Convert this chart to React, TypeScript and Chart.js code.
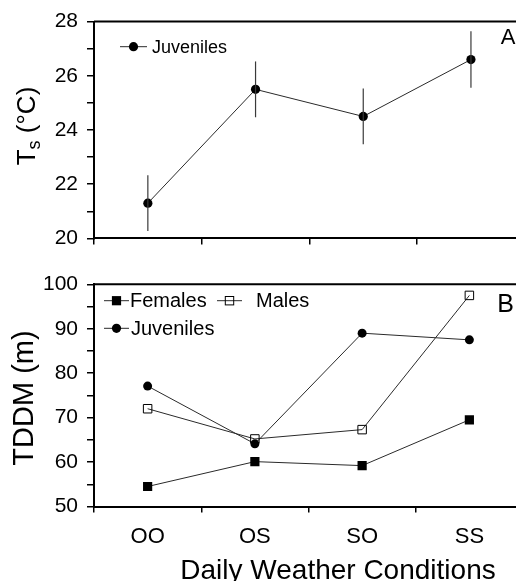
import React, { useEffect, useRef } from "react";
import { Chart, registerables } from "chart.js";

Chart.register(...registerables);

const categories = ["OO", "OS", "SO", "SS"];

// Panel A: surface temperature of juveniles (mean ± error)
const tsJuveniles = [21.3, 25.5, 24.5, 26.6];
const tsErrors = [1.03, 1.03, 1.03, 1.04];

// Panel B: TDDM (m)
const tddmFemales = [54.5, 60.1, 59.2, 69.5];
const tddmMales = [72.0, 65.2, 67.3, 97.5];
const tddmJuveniles = [77.1, 64.1, 89.0, 87.5];

const FONT = "'Liberation Sans', Arial, Helvetica, sans-serif";
const INK = "#000";
const LINE = "#2a2a2a";

function drawMarker(ctx: CanvasRenderingContext2D, kind: string, x: number, y: number) {
  ctx.save();
  if (kind === "circle") {
    ctx.beginPath();
    ctx.arc(x, y, 4.6, 0, Math.PI * 2);
    ctx.fillStyle = INK;
    ctx.fill();
  } else if (kind === "square") {
    ctx.fillStyle = INK;
    ctx.fillRect(x - 4.6, y - 4.6, 9.2, 9.2);
  } else {
    ctx.strokeStyle = INK;
    ctx.lineWidth = 1;
    ctx.strokeRect(x - 4.2, y - 4.2, 8.4, 8.4);
  }
  ctx.restore();
}

function drawLegendItem(
  ctx: CanvasRenderingContext2D,
  x1: number,
  x2: number,
  y: number,
  kind: string,
  label: string,
  tx: number,
  size: number
) {
  ctx.save();
  ctx.strokeStyle = LINE;
  ctx.lineWidth = 1;
  ctx.beginPath();
  ctx.moveTo(x1, y);
  ctx.lineTo(x2, y);
  ctx.stroke();
  drawMarker(ctx, kind, (x1 + x2) / 2, y);
  ctx.fillStyle = INK;
  ctx.font = `${size}px ${FONT}`;
  ctx.textAlign = "left";
  ctx.textBaseline = "middle";
  ctx.fillText(label, tx, y + 1);
  ctx.restore();
}

const topBorder = {
  id: "topBorder",
  afterDraw(chart: any) {
    const { ctx, chartArea } = chart;
    ctx.save();
    ctx.strokeStyle = INK;
    ctx.lineWidth = 2;
    ctx.beginPath();
    ctx.moveTo(chartArea.left, chartArea.top);
    ctx.lineTo(chartArea.right, chartArea.top);
    ctx.stroke();
    ctx.restore();
  },
};

const errorBars = {
  id: "errorBars",
  afterDatasetsDraw(chart: any) {
    const { ctx } = chart;
    const yScale = chart.scales.y;
    const meta = chart.getDatasetMeta(0);
    ctx.save();
    ctx.strokeStyle = "#3a3a3a";
    ctx.lineWidth = 1.2;
    meta.data.forEach((pt: any, i: number) => {
      const v = tsJuveniles[i];
      const e = tsErrors[i];
      ctx.beginPath();
      ctx.moveTo(pt.x, yScale.getPixelForValue(v - e));
      ctx.lineTo(pt.x, yScale.getPixelForValue(v + e));
      ctx.stroke();
    });
    ctx.restore();
  },
};

const panelADecor = {
  id: "panelADecor",
  afterDraw(chart: any) {
    const { ctx } = chart;
    drawLegendItem(ctx, 120, 147, 46.7, "circle", "Juveniles", 152, 18);
    ctx.save();
    ctx.fillStyle = INK;
    ctx.font = `22px ${FONT}`;
    ctx.textAlign = "center";
    ctx.textBaseline = "middle";
    ctx.fillText("A", 508, 38);
    // Y axis title: T_s (°C)
    ctx.translate(25, 126);
    ctx.rotate(-Math.PI / 2);
    const big = `26px ${FONT}`;
    const small = `18px ${FONT}`;
    ctx.font = big;
    const wT = ctx.measureText("T").width;
    const wR = ctx.measureText(" (°C)").width;
    ctx.font = small;
    const wS = ctx.measureText("s").width;
    const total = wT + wS + wR;
    const x0 = -total / 2;
    const base = 9.5;
    ctx.textAlign = "left";
    ctx.textBaseline = "alphabetic";
    ctx.font = big;
    ctx.fillText("T", x0, base);
    ctx.font = small;
    ctx.fillText("s", x0 + wT, base + 5);
    ctx.font = big;
    ctx.fillText(" (°C)", x0 + wT + wS, base);
    ctx.restore();
  },
};

const panelBDecor = {
  id: "panelBDecor",
  afterDraw(chart: any) {
    const { ctx } = chart;
    // canvas B starts at page y = 260
    drawLegendItem(ctx, 104, 129, 40.7, "square", "Females", 130, 20);
    drawLegendItem(ctx, 217, 242, 40.7, "open", "Males", 256, 20);
    drawLegendItem(ctx, 104, 129, 68.3, "circle", "Juveniles", 131, 20);
    ctx.save();
    ctx.fillStyle = INK;
    ctx.font = `25px ${FONT}`;
    ctx.textAlign = "center";
    ctx.textBaseline = "middle";
    ctx.fillText("B", 505.5, 45);
    ctx.font = `28px ${FONT}`;
    ctx.fillText("Daily Weather Conditions", 338, 311);
    ctx.translate(24, 138);
    ctx.rotate(-Math.PI / 2);
    ctx.font = `29px ${FONT}`;
    ctx.fillText("TDDM (m)", 0, 1);
    ctx.restore();
  },
};

function baseX(showLabels: boolean, height: number) {
  return {
    type: "category" as const,
    labels: categories,
    offset: true,
    grid: {
      offset: true,
      drawOnChartArea: false,
      drawTicks: true,
      tickLength: 6,
      color: INK,
      lineWidth: 1.5,
    },
    border: { display: true, color: INK, width: 2 },
    ticks: {
      display: showLabels,
      color: INK,
      font: { family: FONT, size: 22 },
      padding: 11,
      autoSkip: false,
      maxRotation: 0,
    },
    afterFit(scale: any) {
      scale.height = height;
    },
  };
}

function baseY(min: number, max: number, step: number, labelEvery: number) {
  return {
    type: "linear" as const,
    min,
    max,
    grid: {
      drawOnChartArea: false,
      drawTicks: true,
      tickLength: 7,
      color: INK,
      lineWidth: 1.5,
    },
    border: { display: true, color: INK, width: 2 },
    ticks: {
      stepSize: step,
      autoSkip: false,
      color: INK,
      padding: 9,
      font: { family: FONT, size: 21 },
      callback: (v: any) => (Math.round(v) % labelEvery === 0 ? String(v) : ""),
    },
    afterFit(scale: any) {
      scale.width = 94;
    },
  };
}

export default function App() {
  const refA = useRef<HTMLCanvasElement>(null);
  const refB = useRef<HTMLCanvasElement>(null);

  useEffect(() => {
    const chartA = new Chart(refA.current as HTMLCanvasElement, {
      type: "line",
      data: {
        labels: categories,
        datasets: [
          {
            label: "Juveniles",
            data: tsJuveniles,
            borderColor: LINE,
            borderWidth: 1,
            pointStyle: "circle",
            pointRadius: 4.6,
            pointBackgroundColor: INK,
            pointBorderColor: INK,
            pointBorderWidth: 0,
            tension: 0,
          },
        ],
      },
      options: {
        animation: false,
        responsive: false,
        maintainAspectRatio: false,
        layout: { padding: { top: 19.3, right: 5.2, left: 0, bottom: 0 } },
        plugins: { legend: { display: false }, tooltip: { enabled: false } },
        scales: {
          x: baseX(false, 20),
          y: baseY(20, 28, 1, 2),
        },
      },
      plugins: [topBorder, errorBars, panelADecor],
    });

    const chartB = new Chart(refB.current as HTMLCanvasElement, {
      type: "line",
      data: {
        labels: categories,
        datasets: [
          {
            label: "Females",
            data: tddmFemales,
            borderColor: LINE,
            borderWidth: 1,
            pointStyle: "rect",
            pointRadius: 6.5,
            pointBackgroundColor: INK,
            pointBorderColor: INK,
            pointBorderWidth: 0,
            tension: 0,
          },
          {
            label: "Males",
            data: tddmMales,
            borderColor: LINE,
            borderWidth: 1,
            pointStyle: "rect",
            pointRadius: 6,
            pointBackgroundColor: "rgba(0,0,0,0)",
            pointBorderColor: INK,
            pointBorderWidth: 1,
            tension: 0,
          },
          {
            label: "Juveniles",
            data: tddmJuveniles,
            borderColor: LINE,
            borderWidth: 1,
            pointStyle: "circle",
            pointRadius: 4.5,
            pointBackgroundColor: INK,
            pointBorderColor: INK,
            pointBorderWidth: 0,
            tension: 0,
          },
        ],
      },
      options: {
        animation: false,
        responsive: false,
        maintainAspectRatio: false,
        layout: { padding: { top: 24.3, right: 5.2, left: 0, bottom: 0 } },
        plugins: { legend: { display: false }, tooltip: { enabled: false } },
        scales: {
          x: baseX(true, 74.5),
          y: baseY(50, 100, 5, 10),
        },
      },
      plugins: [topBorder, panelBDecor],
    });

    return () => {
      chartA.destroy();
      chartB.destroy();
    };
  }, []);

  return (
    <div
      style={{
        position: "absolute",
        left: 0,
        top: 0,
        width: 516,
        height: 581,
        overflow: "hidden",
        background: "#fff",
      }}
    >
      <canvas
        ref={refA}
        width={530}
        height={260}
        style={{ position: "absolute", left: 0, top: 0 }}
      />
      <canvas
        ref={refB}
        width={530}
        height={321}
        style={{ position: "absolute", left: 0, top: 260 }}
      />
    </div>
  );
}
